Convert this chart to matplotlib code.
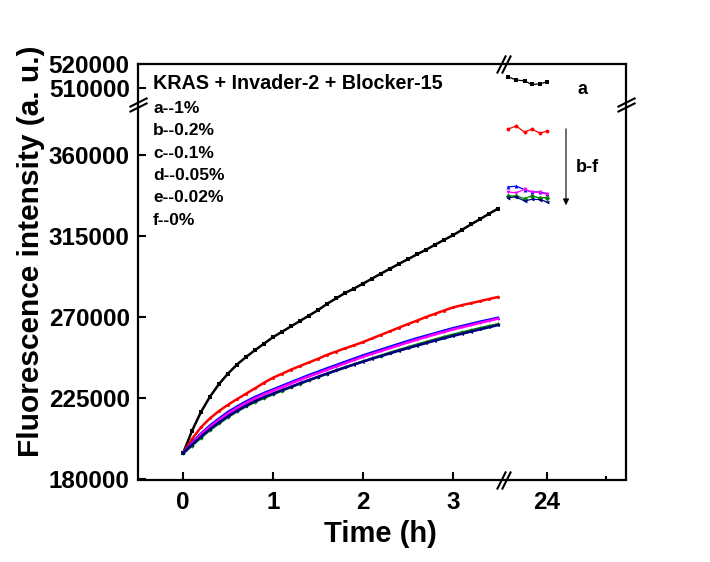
import numpy as np
import matplotlib
matplotlib.use("Agg")
import matplotlib.pyplot as plt
from matplotlib.scale import FuncScale
from matplotlib.transforms import ScaledTranslation

plt.rcParams['font.family'] = ['Liberation Sans', 'DejaVu Sans']
plt.rcParams['font.weight'] = 'bold'

# ---------------- data ----------------
time_h = [0.0, 0.1, 0.2, 0.3, 0.4, 0.5, 0.6, 0.7, 0.8, 0.9, 1.0, 1.1, 1.2, 1.3, 1.4, 1.5, 1.6, 1.7,
          1.8, 1.9, 2.0, 2.1, 2.2, 2.3, 2.4, 2.5, 2.6, 2.7, 2.8, 2.9, 3.0, 3.1, 3.2, 3.3, 3.4, 3.5]

a_1pct = [194500, 207000, 217500, 226000, 233000, 238800, 243800, 248000, 251800, 255400, 259000,
          262000, 265000, 268000, 271000, 274000, 277500, 280500, 283500, 286000, 288700, 291500,
          294300, 297000, 299700, 302300, 305000, 307500, 310300, 313000, 315600, 318600, 321600,
          324500, 327500, 330400]
b_02pct = [194500, 202500, 209000, 214000, 218000, 221500, 224600, 227600, 230600, 233700, 236500,
           238700, 241000, 243000, 245000, 247000, 249200, 251000, 252800, 254500, 256300, 258300,
           260300, 262300, 264300, 266300, 268200, 270200, 272000, 273800, 275500, 276800, 277900,
           279000, 280200, 281300]
c_01pct = [194500, 200500, 205500, 210000, 213800, 217500, 220500, 223300, 225800, 228000, 230000,
           232000, 234000, 236000, 238000, 239800, 241700, 243500, 245300, 247100, 248900, 250500,
           252100, 253700, 255300, 256900, 258400, 259800, 261200, 262600, 264000, 265200, 266400,
           267600, 268700, 269800]
d_005pct = [194500, 200000, 205000, 209300, 213000, 216600, 219700, 222500, 225000, 227300, 229300,
            231300, 233300, 235300, 237200, 239000, 240900, 242700, 244500, 246300, 248100, 249700,
            251300, 252900, 254500, 256100, 257600, 259100, 260500, 261900, 263300, 264500, 265700,
            266900, 268100, 269300]
e_002pct = [194500, 198800, 203300, 207500, 211200, 214700, 217800, 220600, 223100, 225300, 227300,
            229300, 231300, 233200, 235100, 236900, 238700, 240500, 242200, 243900, 245600, 247200,
            248800, 250400, 251900, 253400, 254900, 256300, 257700, 259100, 260400, 261600, 262800,
            264000, 265100, 266200]
f_0pct = [194500, 199300, 203800, 208000, 211700, 215100, 218200, 221000, 223500, 225700, 227700,
          229600, 231500, 233400, 235200, 237000, 238800, 240500, 242200, 243800, 245400, 247000,
          248500, 250000, 251500, 252900, 254300, 255700, 257100, 258400, 259700, 260900, 262100,
          263300, 264500, 265700]

time_24h = [23.67, 23.74, 23.81, 23.87, 23.94, 24.0]
a_24h = [514700, 513300, 513000, 511500, 511700, 512600]
b_24h = [374500, 376200, 372800, 374500, 372300, 373300]
c_24h = [342400, 342800, 340900, 339600, 339600, 338700]
d_24h = [339600, 339100, 341100, 339600, 339300, 338300]
e_24h = [337400, 337400, 335900, 337400, 336300, 336500]
f_24h = [336500, 336800, 334600, 335500, 335400, 334100]

series_labels = ['a--1%', 'b--0.2%', 'c--0.1%', 'd--0.05%', 'e--0.02%', 'f--0%']
title_text = 'KRAS + Invader-2 + Blocker-15'
x_ticks = [0, 1, 2, 3, 24]
y_ticks = [180000, 225000, 270000, 315000, 360000, 510000, 520000]

# ---------------- broken scales ----------------
XB1, XB2 = 3.556, 23.63
KX1, KX2, GX = 90.0, 118.0, 0.01
YB1, YB2 = 388333.0, 503333.0
KY1, KY2, GY = 81.0 / 45000.0, 24.0 / 10000.0, 1e-6


def make_scale(b1, b2, k1, k2, g):
    G = (b2 - b1) * g

    def fwd(v):
        v = np.asarray(v, dtype=float)
        return np.where(v < b1, (v - b1) * k1,
                        np.where(v > b2, G + (v - b2) * k2, (v - b1) * g))

    def inv(u):
        u = np.asarray(u, dtype=float)
        return np.where(u < 0, b1 + u / k1,
                        np.where(u > G, b2 + (u - G) / k2, b1 + u / g))
    return fwd, inv


W, H = 710, 562
fig = plt.figure(figsize=(W / 100, H / 100), dpi=100)
L, R, T, B = 138, 626, 64, 479.5
ax = fig.add_axes([L / W, 1 - B / H, (R - L) / W, (B - T) / H])

ax.set_xscale(FuncScale(ax, make_scale(XB1, XB2, KX1, KX2, GX)))
ax.set_yscale(FuncScale(ax, make_scale(YB1, YB2, KY1, KY2, GY)))

colors = ['black', '#ff0000', '#0000ff', '#ff00ff', '#008000', '#000080']
markers = ['s', 'o', '^', 'v', 'D', '<']
curves = [a_1pct, b_02pct, c_01pct, d_005pct, e_002pct, f_0pct]
ends = [a_24h, b_24h, c_24h, d_24h, e_24h, f_24h]
for vals, c, m in zip(curves, colors, markers):
    ax.plot(time_h, vals, color=c, lw=1.8, marker=m, ms=2.2, mew=0)
for vals, c, m in zip(ends, colors, markers):
    ax.plot(time_24h, vals, color=c, lw=0.9, marker=m, ms=2.8, mew=0)

ax.set_xlim(-0.5, 24.67)
ax.set_ylim(180000, 520000)
ax.set_xticks(x_ticks)
ax.set_xticklabels([str(t) for t in x_ticks])
ax.set_xticks([24.5], minor=True)
ax.set_yticks(y_ticks)
ax.set_yticklabels([str(t) for t in y_ticks])
ax.tick_params(which='major', direction='in', length=6, width=1.5, labelsize=17.5, pad=6)
ax.tick_params(axis='x', which='major', pad=8)
ax.tick_params(which='minor', direction='in', length=3, width=1.5)
ax.tick_params(top=False, right=False)
for lab in ax.get_xticklabels() + ax.get_yticklabels():
    lab.set_fontweight('bold')
for s in ax.spines.values():
    s.set_linewidth(1.6)

ax.set_xlabel('Time (h)', fontsize=21, fontweight='bold')
ax.xaxis.set_label_coords(0.496, -0.098)
ax.set_ylabel('Fluorescence intensity (a. u.)', fontsize=21.5, fontweight='bold')
ax.yaxis.set_label_coords(-0.19, 0.55)

# ---------------- break marks ----------------
def brk(xy, transform, horiz):
    for d in (-2.5, 2.5):
        if horiz:
            off = ScaledTranslation(d / 100, 0, fig.dpi_scale_trans)
        else:
            off = ScaledTranslation(0, d / 100, fig.dpi_scale_trans)
        ax.plot([xy[0]], [xy[1]], transform=transform + off,
                marker=[(-0.5, -1), (0.5, 1)] if horiz else [(-1, -0.5), (1, 0.5)],
                ms=13, mec='black', mew=1.5, ls='none', clip_on=False, zorder=5)


brk((XB1, 0), ax.get_xaxis_transform(), True)
brk((XB1, 1), ax.get_xaxis_transform(), True)
brk((0, YB1), ax.get_yaxis_transform(), False)
brk((1, YB1), ax.get_yaxis_transform(), False)

# ---------------- annotations ----------------
fig.text(153 / W, 1 - 89.3 / H, title_text, fontsize=14.2, fontweight='bold', va='baseline')
for i, lab in enumerate(series_labels):
    fig.text(153 / W, 1 - (112.7 + 22.4 * i) / H, lab, fontsize=12.5, fontweight='bold', va='baseline')
fig.text(583 / W, 1 - 94 / H, 'a', fontsize=13, fontweight='bold', va='baseline', ha='center')
fig.text(587 / W, 1 - 171.7 / H, 'b-f', fontsize=13, fontweight='bold', va='baseline', ha='center')
fig.add_artist(matplotlib.patches.FancyArrowPatch((566 / W, 1 - 126 / H), (566 / W, 1 - 208 / H),
                                                  transform=fig.transFigure, arrowstyle='-|>',
                                                  mutation_scale=9, lw=0.8, color='black'))

fig.savefig('out.png', dpi=100)
